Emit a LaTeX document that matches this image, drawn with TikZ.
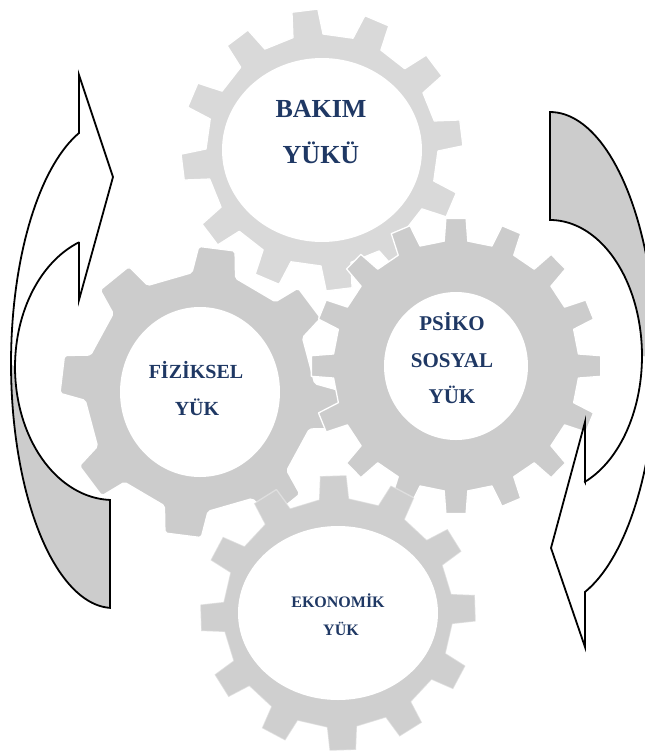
\documentclass[tikz,border=0pt]{standalone}
\usepackage{fontspec}
\setmainfont{Liberation Serif}
\definecolor{gearlight}{HTML}{D9D9D9}
\definecolor{geardark}{HTML}{CCCCCC}
\definecolor{gearmid}{HTML}{CFCFCF}
\definecolor{navy}{HTML}{1F3864}
\definecolor{backgray}{HTML}{CCCCCC}
% gear outline: #1 teeth, #2 offset angle, #3 root radius, #4 tip radius, #5 root half angle, #6 tip half angle
\newcommand{\gearoutline}[6]{%
  ({#3*cos(#2+360/#1-#5)},{-#3*sin(#2+360/#1-#5)})
  \foreach \k in {1,...,#1} {
    -- ({#3*cos(#2+\k*360/#1-#5)},{-#3*sin(#2+\k*360/#1-#5)})
    -- ({#4*cos(#2+\k*360/#1-#6)},{-#4*sin(#2+\k*360/#1-#6)})
    -- ({#4*cos(#2+\k*360/#1+#6)},{-#4*sin(#2+\k*360/#1+#6)})
    -- ({#3*cos(#2+\k*360/#1+#5)},{-#3*sin(#2+\k*360/#1+#5)})
  } -- cycle}
\tikzset{
  gearbody/.style={draw=white, line width=1.3pt, line join=round},
  hole/.style={fill=white},
  lbl/.style={text=navy, anchor=base, inner sep=0pt, font=\bfseries},
  arrowline/.style={draw=black, line width=1.8pt, line join=miter},
}
\begin{document}
\begin{tikzpicture}[x=1pt, y=-1pt]
\useasboundingbox (0,0) rectangle (645,753);
% top gear
\begin{scope}[shift={(322,150)}]
  \path[gearbody, fill=gearlight] \gearoutline{12}{7}{116}{141}{7.5}{5.3};
  \fill[hole] (0,0) ellipse [x radius=100pt, y radius=92pt];
\end{scope}
% left gear
\begin{scope}[shift={(200,392)}, yscale=1.04]
  \path[gearbody, fill=geardark, rounded corners=2pt] \gearoutline{8}{83}{115}{140}{11}{7.5};
\end{scope}
\fill[hole] (200,392) ellipse [x radius=80pt, y radius=85pt];
% right gear
\begin{scope}[shift={(456,366)}, yscale=1.02]
  \path[gearbody, fill=geardark] \gearoutline{16}{0}{123}{145}{5.5}{4};
\end{scope}
\fill[hole] (456,366) ellipse [x radius=72pt, y radius=74pt];
% bottom gear
\begin{scope}[shift={(338,613)}]
  \path[gearbody, draw opacity=0.35, fill=gearmid] \gearoutline{12}{2}{115}{138}{7.5}{5.5};
  \fill[hole] (0,0) ellipse [x radius=100pt, y radius=87pt];
\end{scope}
% labels
\node[lbl, font=\bfseries\fontsize{26}{30}\selectfont] (bak1) at (321,117) {BAKIM};
\node[lbl, font=\bfseries\fontsize{26}{30}\selectfont] (bak2) at (321,163) {YÜKÜ};
\node[lbl, font=\bfseries\fontsize{20}{24}\selectfont] (fiz1) at (196,378) {FİZİKSEL};
\node[lbl, font=\bfseries\fontsize{20}{24}\selectfont] (fiz2) at (197,415) {YÜK};
\node[lbl, font=\bfseries\fontsize{21}{25}\selectfont] (psi1) at (452,330) {PSİKO};
\node[lbl, font=\bfseries\fontsize{21}{25}\selectfont] (psi2) at (452,367) {SOSYAL};
\node[lbl, font=\bfseries\fontsize{21}{25}\selectfont] (psi3) at (452,403) {YÜK};
\node[lbl, font=\bfseries\fontsize{16}{19}\selectfont] (eko1) at (338,607) {EKONOMİK};
\node[lbl, font=\bfseries\fontsize{16}{19}\selectfont] (eko2) at (341,635) {YÜK};
% left curved arrow
\fill[backgray] plot[domain=91.7:180, samples=40] ({113+102*cos(\x)},{363.5+244.5*sin(\x)})
  -- plot[domain=180:91.75, samples=40] ({113+98*cos(\x)},{367+133*sin(\x)}) -- cycle;
\fill[white] plot[domain=180:250.5, samples=40] ({113+102*cos(\x)},{363.5+244.5*sin(\x)})
  -- (79,75) -- (113,177) -- (79,300) -- (79,242)
  -- plot[domain=249.7:180, samples=40] ({113+98*cos(\x)},{367+133*sin(\x)}) -- cycle;
\draw[arrowline] plot[domain=91.7:250.5, samples=80] ({113+102*cos(\x)},{363.5+244.5*sin(\x)})
  -- (79,75) -- (113,177) -- (79,300) -- (79,242)
  -- plot[domain=249.7:91.75, samples=80] ({113+98*cos(\x)},{367+133*sin(\x)}) -- cycle;
% right curved arrow
\fill[backgray] plot[domain=-90:0, samples=40] ({550+106*cos(\x)},{358.9+246.9*sin(\x)})
  -- plot[domain=0:-90, samples=40] ({550+92*cos(\x)},{356+136*sin(\x)}) -- cycle;
\fill[white] plot[domain=0:70.7, samples=40] ({550+106*cos(\x)},{358.9+246.9*sin(\x)})
  -- (585,647) -- (551,548) -- (585,422) -- (585,482)
  -- plot[domain=67.7:0, samples=40] ({550+92*cos(\x)},{356+136*sin(\x)}) -- cycle;
\draw[arrowline] plot[domain=-90:70.7, samples=80] ({550+106*cos(\x)},{358.9+246.9*sin(\x)})
  -- (585,647) -- (551,548) -- (585,422) -- (585,482)
  -- plot[domain=67.7:-90, samples=80] ({550+92*cos(\x)},{356+136*sin(\x)}) -- cycle;
\end{tikzpicture}
\end{document}
